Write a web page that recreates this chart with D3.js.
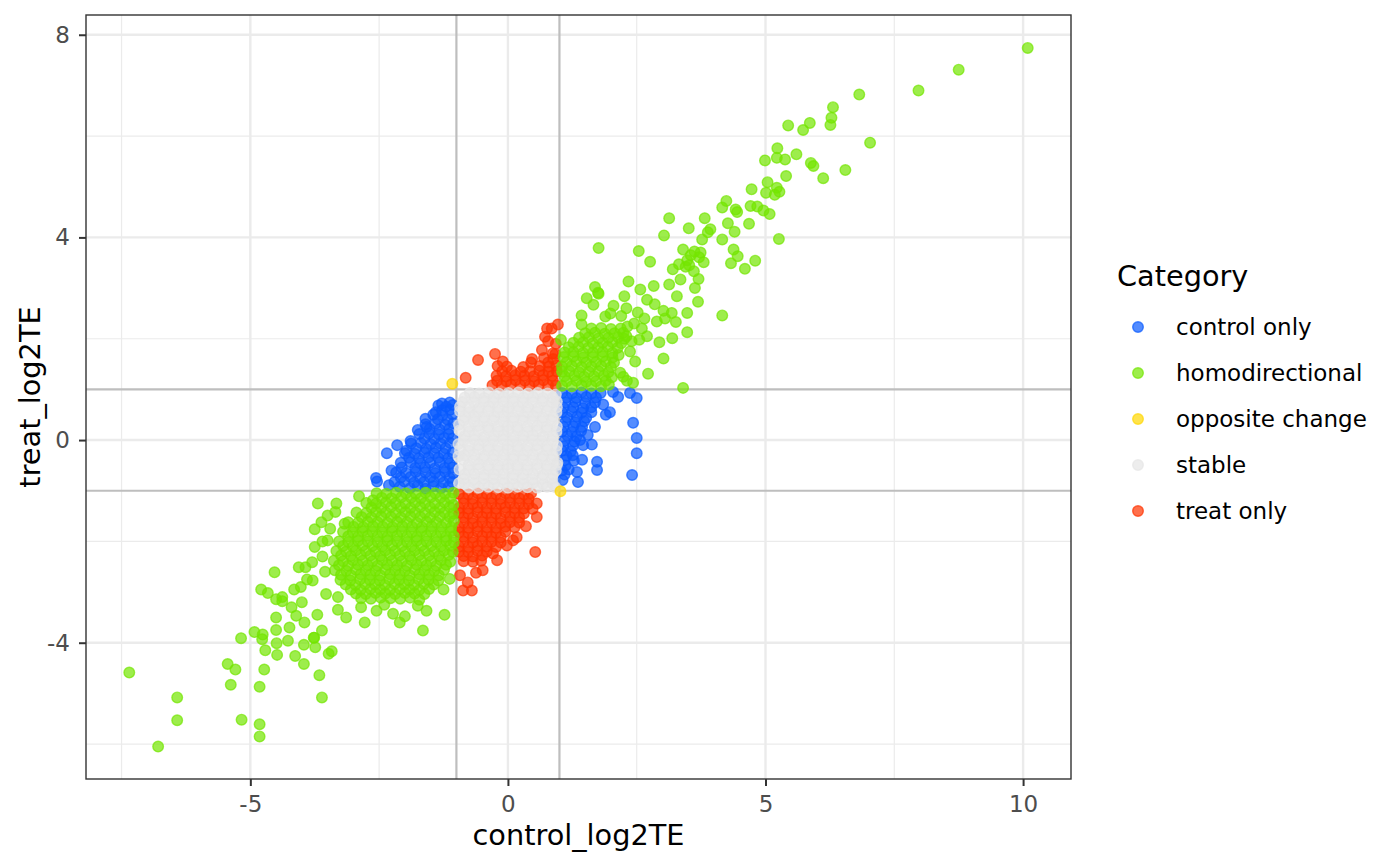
<!DOCTYPE html>
<html>
<head>
<meta charset="utf-8">
<script src="https://cdn.jsdelivr.net/npm/d3@7"></script>
<style>
body { margin: 0; background: #fff; }
text { font-family: "DejaVu Sans", sans-serif; }
</style>
</head>
<body>
<div id="te_scatter"></div>
<script>
// categories, in legend order
var categories = ["control only", "homodirectional", "opposite change", "stable", "treat only"];

// tick values
var xTicks = [-5, 0, 5, 10];
var yTicks = [-4, 0, 4, 8];
var xMinor = [-7.5, -2.5, 2.5, 7.5];
var yMinor = [-6, -2, 2, 6];
var cutoffs = [-1, 1];

// points: [control_log2TE, treat_log2TE]
var stable = [
  [-0.74,0.93],[-0.56,0.92],[-0.37,0.94],[-0.18,0.92],[0.01,0.93],[0.2,0.94],[0.39,0.92],[0.58,0.93],[0.77,0.92],[0.93,0.9],
  [-0.84,0.84],[-0.65,0.85],[-0.46,0.83],[-0.27,0.84],[-0.08,0.85],[0.11,0.83],[0.3,0.84],[0.49,0.85],[0.68,0.83],[0.87,0.84],
  [-0.88,0.75],[-0.66,0.74],[-0.47,0.76],[-0.28,0.74],[-0.09,0.75],[0.1,0.76],[0.29,0.74],[0.48,0.75],[0.67,0.76],[0.86,0.74],[0.95,0.76],
  [-0.93,0.66],[-0.75,0.65],[-0.56,0.64],[-0.37,0.66],[-0.18,0.65],[0.01,0.64],[0.2,0.66],[0.39,0.65],[0.58,0.64],[0.77,0.66],[0.95,0.65],
  [-0.93,0.57],[-0.76,0.55],[-0.57,0.56],[-0.38,0.57],[-0.19,0.55],[0.0,0.56],[0.19,0.57],[0.38,0.55],[0.57,0.56],[0.76,0.57],[0.94,0.55],
  [-0.84,0.46],[-0.65,0.47],[-0.46,0.45],[-0.27,0.46],[-0.08,0.47],[0.11,0.45],[0.3,0.46],[0.49,0.47],[0.68,0.45],[0.87,0.46],
  [-0.86,0.38],[-0.66,0.36],[-0.47,0.37],[-0.28,0.38],[-0.09,0.36],[0.1,0.37],[0.29,0.38],[0.48,0.36],[0.67,0.37],[0.86,0.38],[-0.95,0.3],
  [-0.76,0.27],[-0.57,0.28],[-0.38,0.26],[-0.19,0.27],[0.0,0.28],[0.19,0.26],[0.38,0.27],[0.57,0.28],[0.76,0.26],[0.95,0.27],
  [-0.94,0.19],[-0.76,0.17],[-0.57,0.18],[-0.38,0.19],[-0.19,0.17],[0.0,0.18],[0.19,0.19],[0.38,0.17],[0.57,0.18],[0.76,0.19],[0.94,0.17],
  [-0.84,0.08],[-0.65,0.09],[-0.46,0.07],[-0.27,0.08],[-0.08,0.09],[0.11,0.07],[0.3,0.08],[0.49,0.09],[0.68,0.07],[0.87,0.08],
  [-0.86,-0.01],[-0.66,0.0],[-0.47,-0.02],[-0.28,-0.01],[-0.09,0.0],[0.1,-0.02],[0.29,-0.01],[0.48,0.0],[0.67,-0.02],[0.86,-0.01],[-0.96,-0.08],
  [-0.76,-0.11],[-0.57,-0.1],[-0.38,-0.12],[-0.19,-0.11],[0.0,-0.1],[0.19,-0.12],[0.38,-0.11],[0.57,-0.1],[0.76,-0.12],[0.95,-0.11],
  [-0.93,-0.2],[-0.76,-0.21],[-0.57,-0.19],[-0.38,-0.2],[-0.19,-0.21],[0.0,-0.19],[0.19,-0.2],[0.38,-0.21],[0.57,-0.19],[0.76,-0.2],[0.94,-0.21],
  [-0.84,-0.3],[-0.65,-0.29],[-0.46,-0.31],[-0.27,-0.3],[-0.08,-0.29],[0.11,-0.31],[0.3,-0.3],[0.49,-0.29],[0.68,-0.31],[0.87,-0.3],[-0.96,-0.32],
  [-0.86,-0.39],[-0.66,-0.4],[-0.47,-0.38],[-0.28,-0.39],[-0.09,-0.4],[0.1,-0.38],[0.29,-0.39],[0.48,-0.4],[0.67,-0.38],[0.86,-0.39],[0.96,-0.45],
  [-0.76,-0.49],[-0.57,-0.48],[-0.38,-0.5],[-0.19,-0.49],[0.0,-0.48],[0.19,-0.5],[0.38,-0.49],[0.57,-0.48],[0.76,-0.5],[0.95,-0.49],
  [-0.94,-0.58],[-0.76,-0.59],[-0.57,-0.57],[-0.38,-0.58],[-0.19,-0.59],[0.0,-0.57],[0.19,-0.58],[0.38,-0.59],[0.57,-0.57],[0.76,-0.58],[0.93,-0.6],
  [-0.84,-0.68],[-0.65,-0.67],[-0.46,-0.69],[-0.27,-0.68],[-0.08,-0.67],[0.11,-0.69],[0.3,-0.68],[0.49,-0.67],[0.68,-0.69],[0.87,-0.68],
  [-0.86,-0.77],[-0.66,-0.78],[-0.47,-0.76],[-0.28,-0.77],[-0.09,-0.78],[0.1,-0.76],[0.29,-0.77],[0.48,-0.78],[0.67,-0.76],[0.86,-0.77],[-0.95,-0.85],
  [-0.84,-0.86],[-0.65,-0.85],[-0.46,-0.87],[-0.27,-0.86],[-0.08,-0.85],[0.11,-0.87],[0.3,-0.86],[0.49,-0.85],[0.68,-0.87],[0.87,-0.86],
  [-0.76,-0.93],[-0.57,-0.94],[-0.38,-0.92],[-0.19,-0.93],[0.0,-0.94],[0.19,-0.92],[0.38,-0.93],[0.57,-0.94],[0.76,-0.92],[0.92,-0.93]
];

var controlOnly = [
  // left block
  [-1.35,0.68],[-1.2,0.66],[-1.07,0.69],[-1.28,0.59],[-1.12,0.6],
  [-1.45,0.5],[-1.27,0.49],[-1.08,0.51],[-1.36,0.41],[-1.17,0.4],
  [-1.6,0.31],[-1.41,0.32],[-1.22,0.3],[-1.06,0.33],[-1.52,0.22],[-1.33,0.21],[-1.14,0.22],
  [-1.72,0.12],[-1.53,0.13],[-1.34,0.11],[-1.15,0.12],[-1.62,0.03],[-1.43,0.02],[-1.24,0.04],[-1.07,0.03],
  [-1.88,-0.07],[-1.69,-0.06],[-1.5,-0.08],[-1.31,-0.07],[-1.12,-0.06],[-1.78,-0.16],[-1.59,-0.17],[-1.4,-0.15],[-1.21,-0.16],
  [-2.0,-0.26],[-1.81,-0.27],[-1.62,-0.25],[-1.43,-0.26],[-1.24,-0.27],[-1.07,-0.25],
  [-1.92,-0.35],[-1.73,-0.36],[-1.54,-0.34],[-1.35,-0.35],[-1.16,-0.36],
  [-2.08,-0.45],[-1.89,-0.44],[-1.7,-0.46],[-1.51,-0.45],[-1.32,-0.44],[-1.13,-0.46],
  [-1.8,-0.55],[-1.61,-0.54],[-1.42,-0.56],[-1.23,-0.55],[-1.07,-0.54],
  [-2.17,-0.64],[-1.98,-0.65],[-1.79,-0.63],[-1.6,-0.64],[-1.41,-0.65],[-1.22,-0.63],[-1.06,-0.66],
  [-2.08,-0.74],[-1.89,-0.73],[-1.7,-0.75],[-1.51,-0.74],[-1.32,-0.73],[-1.13,-0.75],
  [-2.2,-0.83],[-2.01,-0.82],[-1.82,-0.84],[-1.63,-0.83],[-1.44,-0.82],[-1.25,-0.84],[-1.08,-0.83],
  [-2.1,-0.92],[-1.9,-0.95],[-1.75,-0.9],[-1.6,-0.96],[-1.45,-0.91],[-1.3,-0.95],[-1.15,-0.92],
  [-2.35,-0.26],[-2.56,-0.75],[-2.54,-0.82],[-2.26,-0.6],[-2.06,-0.54],[-2.31,-0.89],[-1.89,-0.02],[-1.97,-0.21],
  [-1.28,0.72],[-1.13,0.74],[-1.4,0.55],[-1.58,0.26],[-1.75,0.2],[-2.15,-0.1],[-1.6,0.42],
  // right block
  [1.05,0.93],[1.24,0.92],[1.43,0.94],[1.62,0.92],[1.8,0.93],
  [1.14,0.84],[1.33,0.83],[1.52,0.85],[1.71,0.84],
  [1.12,0.74],[1.31,0.75],[1.5,0.73],[1.69,0.74],
  [1.08,0.64],[1.27,0.65],[1.46,0.63],[1.62,0.65],
  [1.05,0.55],[1.24,0.56],[1.43,0.54],[1.62,0.55],
  [1.15,0.45],[1.34,0.46],[1.52,0.44],
  [1.12,0.36],[1.31,0.35],[1.48,0.37],
  [1.08,0.26],[1.27,0.27],[1.44,0.26],
  [1.05,0.17],[1.24,0.16],[1.42,0.18],
  [1.16,0.08],[1.33,0.07],
  [1.1,-0.02],[1.29,-0.03],[1.4,0.0],
  [1.08,-0.12],[1.26,-0.11],
  [1.05,-0.21],[1.22,-0.22],[1.14,-0.31],
  [1.1,-0.4],[1.28,-0.41],[1.12,-0.5],
  [1.05,-0.6],[1.18,-0.58],[1.1,-0.68],
  [1.06,-0.79],
  [2.37,0.93],[2.5,0.83],[2.43,0.34],[2.5,0.04],[2.5,-0.26],[2.41,-0.69],[2.14,0.85],[2.04,0.95],[1.98,0.55],[1.9,0.5],
  [1.69,0.26],[1.63,-0.09],[1.46,-0.1],[1.44,-0.39],[1.73,-0.43],[1.73,-0.59],[1.34,-0.63],[1.36,-0.83],[1.26,-0.3],[1.55,0.1],[1.85,0.7]
];

var treatOnly = [
  // upper block
  [-0.3,1.08],[-0.12,1.07],[0.06,1.09],[0.24,1.08],[0.42,1.07],[0.6,1.09],[0.78,1.08],[0.93,1.07],
  [-0.21,1.17],[-0.03,1.16],[0.15,1.18],[0.33,1.17],[0.51,1.16],[0.69,1.18],[0.87,1.17],
  [-0.22,1.27],[-0.04,1.26],[0.14,1.28],[0.32,1.27],[0.5,1.26],[0.68,1.28],[0.86,1.27],
  [-0.11,1.36],[0.07,1.37],[0.25,1.35],[0.43,1.36],[0.61,1.37],[0.79,1.35],[0.95,1.36],
  [-0.2,1.46],[-0.02,1.45],[0.3,1.44],[0.62,1.46],[0.8,1.45],[0.94,1.47],
  [-0.1,1.55],[0.45,1.53],[0.78,1.53],[0.92,1.7],
  [0.7,1.62],[0.88,1.6],
  [-0.58,1.58],[-0.25,1.7],[-0.82,1.23],[0.47,1.6],[0.66,1.78],[0.72,2.04],[0.76,2.2],[0.97,2.28],[0.85,2.2],[0.87,1.71],[0.93,1.9],[0.78,1.95],
  // lower block
  [-0.95,-1.06],[-0.77,-1.07],[-0.59,-1.05],[-0.41,-1.06],[-0.23,-1.07],[-0.05,-1.05],[0.13,-1.06],[0.31,-1.07],[0.45,-1.05],
  [-0.86,-1.15],[-0.68,-1.16],[-0.5,-1.14],[-0.32,-1.15],[-0.14,-1.16],[0.04,-1.14],[0.22,-1.15],[0.4,-1.16],
  [-0.86,-1.25],[-0.68,-1.26],[-0.5,-1.24],[-0.32,-1.25],[-0.14,-1.26],[0.04,-1.24],[0.22,-1.25],[0.4,-1.26],
  [-0.95,-1.34],[-0.77,-1.35],[-0.59,-1.33],[-0.41,-1.34],[-0.23,-1.35],[-0.05,-1.33],[0.13,-1.34],[0.31,-1.35],[0.48,-1.36],
  [-0.95,-1.44],[-0.77,-1.45],[-0.59,-1.43],[-0.41,-1.44],[-0.23,-1.45],[-0.05,-1.43],[0.13,-1.44],[0.31,-1.45],
  [-0.86,-1.53],[-0.68,-1.54],[-0.5,-1.52],[-0.32,-1.53],[-0.14,-1.54],[0.04,-1.52],[0.22,-1.53],
  [-0.86,-1.63],[-0.68,-1.64],[-0.5,-1.62],[-0.32,-1.63],[-0.14,-1.64],[0.04,-1.62],[0.22,-1.63],
  [-0.95,-1.72],[-0.77,-1.73],[-0.59,-1.71],[-0.41,-1.72],[-0.23,-1.73],[-0.05,-1.71],[0.13,-1.72],
  [-0.95,-1.82],[-0.77,-1.83],[-0.59,-1.81],[-0.41,-1.82],[-0.23,-1.83],[-0.05,-1.81],
  [-0.86,-1.91],[-0.68,-1.92],[-0.5,-1.9],[-0.32,-1.91],[-0.14,-1.92],
  [-0.86,-2.01],[-0.68,-2.02],[-0.5,-2.0],[-0.32,-2.01],[-0.14,-2.02],
  [-0.95,-2.1],[-0.77,-2.11],[-0.59,-2.09],[-0.41,-2.1],[-0.23,-2.11],
  [-0.95,-2.2],[-0.77,-2.21],[-0.59,-2.19],[-0.41,-2.2],
  [-0.86,-2.29],[-0.68,-2.3],[-0.5,-2.28],
  [-0.86,-2.39],[-0.68,-2.4],[-0.52,-2.38],
  [0.56,-1.25],[0.56,-1.52],[0.53,-2.21],[0.17,-1.92],[0.1,-1.98],[-0.21,-2.37],[-0.49,-2.57],[-0.78,-2.81],
  [-0.7,-2.97],[-0.87,-2.97],[-0.93,-2.67],[-0.62,-2.62],[-0.29,-2.24],[-0.02,-2.08],[0.35,-1.7]
];

var homodirectional = [
  // lower-left block
  [-2.55,-1.05],[-2.36,-1.06],[-2.17,-1.04],[-1.98,-1.05],[-1.79,-1.06],[-1.6,-1.04],[-1.41,-1.05],[-1.22,-1.06],[-1.06,-1.04],
  [-2.45,-1.14],[-2.26,-1.15],[-2.07,-1.13],[-1.88,-1.14],[-1.69,-1.15],[-1.5,-1.13],[-1.31,-1.14],[-1.12,-1.15],
  [-2.75,-1.24],[-2.56,-1.25],[-2.37,-1.23],[-2.18,-1.24],[-1.99,-1.25],[-1.8,-1.23],[-1.61,-1.24],[-1.42,-1.25],[-1.23,-1.23],[-1.06,-1.28],
  [-2.65,-1.33],[-2.46,-1.34],[-2.27,-1.32],[-2.08,-1.33],[-1.89,-1.34],[-1.7,-1.32],[-1.51,-1.33],[-1.32,-1.34],[-1.13,-1.32],
  [-2.94,-1.43],[-2.75,-1.44],[-2.56,-1.42],[-2.37,-1.43],[-2.18,-1.44],[-1.99,-1.42],[-1.8,-1.43],[-1.61,-1.44],[-1.42,-1.42],[-1.23,-1.43],[-1.06,-1.45],
  [-2.84,-1.52],[-2.65,-1.53],[-2.46,-1.51],[-2.27,-1.52],[-2.08,-1.53],[-1.89,-1.51],[-1.7,-1.52],[-1.51,-1.53],[-1.32,-1.51],[-1.13,-1.52],
  [-3.1,-1.62],[-2.91,-1.63],[-2.72,-1.61],[-2.53,-1.62],[-2.34,-1.63],[-2.15,-1.61],[-1.96,-1.62],[-1.77,-1.63],[-1.58,-1.61],[-1.39,-1.62],[-1.2,-1.63],[-1.05,-1.6],
  [-3.0,-1.71],[-2.81,-1.72],[-2.62,-1.7],[-2.43,-1.71],[-2.24,-1.72],[-2.05,-1.7],[-1.86,-1.71],[-1.67,-1.72],[-1.48,-1.7],[-1.29,-1.71],[-1.1,-1.72],
  [-3.2,-1.81],[-3.01,-1.82],[-2.82,-1.8],[-2.63,-1.81],[-2.44,-1.82],[-2.25,-1.8],[-2.06,-1.81],[-1.87,-1.82],[-1.68,-1.8],[-1.49,-1.81],[-1.3,-1.82],[-1.11,-1.8],
  [-3.1,-1.9],[-2.91,-1.91],[-2.72,-1.89],[-2.53,-1.9],[-2.34,-1.91],[-2.15,-1.89],[-1.96,-1.9],[-1.77,-1.91],[-1.58,-1.89],[-1.39,-1.9],[-1.2,-1.91],[-1.05,-1.9],
  [-3.28,-2.0],[-3.1,-2.01],[-2.91,-1.99],[-2.72,-2.0],[-2.53,-2.01],[-2.34,-1.99],[-2.15,-2.0],[-1.96,-2.01],[-1.77,-1.99],[-1.58,-2.0],[-1.39,-2.01],[-1.2,-1.99],[-1.05,-2.02],
  [-3.2,-2.09],[-3.01,-2.1],[-2.82,-2.08],[-2.63,-2.09],[-2.44,-2.1],[-2.25,-2.08],[-2.06,-2.09],[-1.87,-2.1],[-1.68,-2.08],[-1.49,-2.09],[-1.3,-2.1],[-1.12,-2.08],
  [-3.33,-2.19],[-3.14,-2.2],[-2.95,-2.18],[-2.76,-2.19],[-2.57,-2.2],[-2.38,-2.18],[-2.19,-2.19],[-2.0,-2.2],[-1.81,-2.18],[-1.62,-2.19],[-1.43,-2.2],[-1.24,-2.18],[-1.07,-2.21],
  [-3.24,-2.28],[-3.05,-2.29],[-2.86,-2.27],[-2.67,-2.28],[-2.48,-2.29],[-2.29,-2.27],[-2.1,-2.28],[-1.91,-2.29],[-1.72,-2.27],[-1.53,-2.28],[-1.34,-2.29],[-1.15,-2.27],
  [-3.38,-2.38],[-3.2,-2.39],[-3.01,-2.37],[-2.82,-2.38],[-2.63,-2.39],[-2.44,-2.37],[-2.25,-2.38],[-2.06,-2.39],[-1.87,-2.37],[-1.68,-2.38],[-1.49,-2.39],[-1.3,-2.37],[-1.12,-2.4],
  [-3.28,-2.47],[-3.1,-2.48],[-2.91,-2.46],[-2.72,-2.47],[-2.53,-2.48],[-2.34,-2.46],[-2.15,-2.47],[-1.96,-2.48],[-1.77,-2.46],[-1.58,-2.47],[-1.39,-2.48],[-1.2,-2.46],
  [-3.36,-2.57],[-3.14,-2.58],[-2.95,-2.56],[-2.76,-2.57],[-2.57,-2.58],[-2.38,-2.56],[-2.19,-2.57],[-2.0,-2.58],[-1.81,-2.56],[-1.62,-2.57],[-1.43,-2.58],[-1.24,-2.56],
  [-3.24,-2.66],[-3.05,-2.67],[-2.86,-2.65],[-2.67,-2.66],[-2.48,-2.67],[-2.29,-2.65],[-2.1,-2.66],[-1.91,-2.67],[-1.72,-2.65],[-1.53,-2.66],[-1.34,-2.67],
  [-3.25,-2.76],[-3.06,-2.77],[-2.87,-2.75],[-2.68,-2.76],[-2.49,-2.77],[-2.3,-2.75],[-2.11,-2.76],[-1.92,-2.77],[-1.73,-2.75],[-1.54,-2.76],[-1.35,-2.77],
  [-3.15,-2.85],[-2.96,-2.86],[-2.77,-2.84],[-2.58,-2.85],[-2.39,-2.86],[-2.2,-2.84],[-2.01,-2.85],[-1.82,-2.86],[-1.63,-2.84],[-1.44,-2.85],
  [-3.05,-2.95],[-2.86,-2.96],[-2.67,-2.94],[-2.48,-2.95],[-2.29,-2.96],[-2.1,-2.94],[-1.91,-2.95],[-1.72,-2.96],[-1.53,-2.94],
  [-2.95,-3.03],[-2.76,-3.04],[-2.57,-3.02],[-2.38,-3.03],[-2.19,-3.04],[-2.0,-3.02],[-1.81,-3.03],[-1.62,-3.04],
  [-2.85,-3.12],[-2.66,-3.13],[-2.47,-3.11],[-2.28,-3.12],[-2.09,-3.13],[-1.9,-3.11],[-1.72,-3.15],
  [-7.35,-4.59],[-6.79,-6.05],[-6.42,-5.08],[-6.42,-5.53],[-5.44,-4.42],[-5.29,-4.53],[-5.38,-4.83],[-5.18,-3.91],[-5.17,-5.52],
  [-4.82,-4.87],[-4.82,-5.61],[-4.82,-5.85],[-4.73,-4.53],[-4.71,-4.15],[-4.48,-4.24],[-4.49,-4.01],[-4.92,-3.79],[-4.76,-3.84],
  [-4.77,-3.93],[-4.53,-2.61],[-4.79,-2.95],[-4.66,-3.02],[-4.5,-3.14],[-4.38,-3.18],[-4.38,-3.1],[-4.5,-3.5],[-4.5,-3.75],
  [-4.27,-3.96],[-4.13,-4.26],[-3.96,-4.42],[-3.96,-4.04],[-3.74,-4.09],[-3.76,-3.9],[-3.66,-4.64],[-3.61,-5.08],[-3.48,-4.22],
  [-3.42,-4.17],[-4.24,-3.7],[-4.11,-3.47],[-4.06,-2.51],[-3.93,-2.51],[-3.8,-2.41],[-3.75,-2.11],[-3.69,-1.25],[-3.33,-1.25],
  [-3.75,-1.76],[-3.62,-1.62],[-3.5,-1.49],[-3.35,-1.42],[-3.17,-1.65],[-3.5,-1.98],[-3.79,-2.77],[-3.53,-3.04],[-3.3,-3.1],
  [-3.14,-3.5],[-3.3,-3.35],[-2.78,-3.6],[-2.55,-3.37],[-2.23,-3.43],[-2.1,-3.6],[-2.0,-3.48],[-1.75,-3.27],[-1.65,-3.76],
  [-1.23,-3.45],[-1.58,-3.37],[-1.25,-2.95],[-1.13,-2.74],[-2.89,-1.11],[-2.62,-1.19],[-2.85,-3.3],[-2.4,-3.25],[-3.61,-3.76],
  [-3.77,-3.9],[-4.2,-3.3],[-4.0,-3.2],[-4.02,-2.9],[-3.9,-2.75],[-3.95,-3.6],[-3.7,-3.45],[-3.55,-2.6],[-3.6,-2.3],[-3.6,-2.0],
  [-3.45,-1.75],[-4.15,-2.95],
  // upper-right block
  [1.05,1.07],[1.24,1.06],[1.43,1.08],[1.62,1.07],[1.81,1.06],[1.96,1.09],
  [1.14,1.16],[1.33,1.17],[1.52,1.15],[1.71,1.16],[1.9,1.17],
  [1.1,1.26],[1.29,1.27],[1.48,1.25],[1.67,1.26],[1.86,1.27],[2.02,1.24],
  [1.05,1.35],[1.19,1.36],[1.38,1.34],[1.57,1.35],[1.76,1.36],[1.95,1.34],
  [1.05,1.45],[1.24,1.46],[1.43,1.44],[1.62,1.45],[1.81,1.46],[2.0,1.44],
  [1.14,1.54],[1.33,1.55],[1.52,1.53],[1.71,1.54],[1.9,1.55],[2.06,1.53],
  [1.08,1.64],[1.27,1.65],[1.46,1.63],[1.65,1.64],[1.84,1.65],[2.03,1.63],[2.15,1.68],
  [1.1,1.73],[1.27,1.74],[1.46,1.72],[1.65,1.73],[1.84,1.74],[2.03,1.72],
  [1.18,1.83],[1.37,1.84],[1.56,1.82],[1.75,1.83],[1.94,1.84],[2.13,1.82],
  [1.27,1.92],[1.46,1.93],[1.65,1.91],[1.84,1.92],[2.03,1.93],[2.2,1.91],
  [1.38,2.02],[1.57,2.03],[1.76,2.01],[1.95,2.02],[2.14,2.03],[2.26,2.0],
  [1.5,2.11],[1.69,2.12],[1.88,2.1],[2.07,2.11],[2.24,2.12],
  [1.62,2.2],[1.81,2.21],[2.0,2.19],[2.19,2.2],[2.32,2.24],
  [10.09,7.74],[8.75,7.31],[7.97,6.9],[6.82,6.82],[6.31,6.57],[6.28,6.36],[6.26,6.22],[7.03,5.87],[5.44,6.21],
  [5.86,6.26],[5.73,6.12],[5.23,5.76],[5.22,5.57],[5.38,5.54],[5.6,5.64],[4.99,5.52],[5.88,5.47],[5.93,5.41],
  [6.55,5.33],[6.12,5.17],[5.4,5.21],[5.04,5.09],[4.73,4.95],[5.01,4.88],[5.22,4.98],[5.27,4.9],[5.18,4.84],
  [4.24,4.72],[4.16,4.59],[4.42,4.55],[4.71,4.62],[4.84,4.61],[4.96,4.53],[5.08,4.46],[4.45,4.5],[3.82,4.38],
  [3.13,4.38],[3.51,4.18],[3.03,4.04],[4.68,4.27],[4.27,4.28],[4.4,4.11],[3.93,4.16],[3.88,4.1],[4.16,3.96],
  [3.77,3.96],[5.26,3.97],[1.76,3.79],[2.54,3.73],[2.76,3.52],[3.4,3.76],[3.74,3.7],[3.71,3.61],[3.8,3.51],
  [3.48,3.55],[3.32,3.47],[3.2,3.37],[3.61,3.33],[3.35,3.17],[4.33,3.49],[4.38,3.76],[4.46,3.63],[4.6,3.38],
  [4.8,3.54],[3.7,3.18],[3.63,3.0],[3.69,2.73],[3.13,3.07],[3.28,2.84],[3.48,2.51],[4.16,2.46],[2.34,3.13],
  [1.69,3.02],[1.76,2.89],[1.53,2.8],[2.26,2.84],[2.57,2.97],[2.83,3.04],[2.7,2.77],[2.85,2.68],[3.02,2.55],
  [3.18,2.51],[3.26,2.33],[2.89,2.34],[3.05,2.4],[2.55,1.98],[2.94,1.93],[3.19,2.01],[3.48,2.13],[3.02,1.61],
  [2.72,1.31],[3.4,1.03],[2.47,1.55],[2.37,1.75],[2.31,1.17],[2.05,2.65],[1.43,2.46],[1.43,2.28],[1.66,2.67],
  [1.89,2.44],[1.99,2.5],[2.3,2.6],[1.03,1.98],[2.18,1.33],[1.75,2.91],[2.43,1.13],[2.24,1.25],[2.6,2.2],
  [2.7,2.05],[2.45,2.3],[2.2,2.45],[2.52,2.52],[2.65,2.4],[2.4,1.95],[2.3,2.05],[3.55,3.65],[3.62,3.72],
  [3.45,3.42],[3.52,3.45]
];

var oppositeChange = [[-1.08,1.11],[1.02,-1.01]];

// colours per category
var colour = d3.scaleOrdinal()
    .domain(categories)
    .range(["#0A5BFF", "#73E600", "#FFD700", "#E5E5E5", "#FF3300"]);

// set the dimensions and margins of the graph
var margin = {top: 15, right: 329, bottom: 86, left: 86},
    width = 1400 - margin.left - margin.right,
    height = 865 - margin.top - margin.bottom;

var svg_root = d3.select("#te_scatter")
  .append("svg")
    .attr("width", 1400)
    .attr("height", 865);

var svg = svg_root.append("g")
    .attr("transform", "translate(" + margin.left + "," + margin.top + ")");

var x = d3.scaleLinear().domain([-8.19, 10.93]).range([0, width]);
var y = d3.scaleLinear().domain([-6.69, 8.39]).range([height, 0]);

// grid, minor then major
svg.selectAll(".xminor").data(xMinor).enter().append("line")
    .attr("x1", d => x(d)).attr("x2", d => x(d)).attr("y1", 0).attr("y2", height)
    .style("stroke", "#EBEBEB").style("stroke-width", 1.2);
svg.selectAll(".yminor").data(yMinor).enter().append("line")
    .attr("y1", d => y(d)).attr("y2", d => y(d)).attr("x1", 0).attr("x2", width)
    .style("stroke", "#EBEBEB").style("stroke-width", 1.2);
svg.selectAll(".xmajor").data(xTicks).enter().append("line")
    .attr("x1", d => x(d)).attr("x2", d => x(d)).attr("y1", 0).attr("y2", height)
    .style("stroke", "#EBEBEB").style("stroke-width", 2.4);
svg.selectAll(".ymajor").data(yTicks).enter().append("line")
    .attr("y1", d => y(d)).attr("y2", d => y(d)).attr("x1", 0).attr("x2", width)
    .style("stroke", "#EBEBEB").style("stroke-width", 2.4);

// cutoff lines at +/-1
svg.selectAll(".vcut").data(cutoffs).enter().append("line")
    .attr("x1", d => x(d)).attr("x2", d => x(d)).attr("y1", 0).attr("y2", height)
    .style("stroke", "#BEBEBE").style("stroke-width", 2.2);
svg.selectAll(".hcut").data(cutoffs).enter().append("line")
    .attr("y1", d => y(d)).attr("y2", d => y(d)).attr("x1", 0).attr("x2", width)
    .style("stroke", "#BEBEBE").style("stroke-width", 2.2);

// points, drawn layer by layer (filled circle with a same-coloured rim, like shape 19)
var layers = [
  ["treat only", treatOnly],
  ["control only", controlOnly],
  ["stable", stable],
  ["homodirectional", homodirectional],
  ["opposite change", oppositeChange]
];
layers.forEach(function(l) {
  svg.append("g").selectAll("circle")
    .data(l[1])
    .enter()
    .append("circle")
      .attr("cx", d => x(d[0]))
      .attr("cy", d => y(d[1]))
      .attr("r", 5.3)
      .style("fill", colour(l[0]))
      .style("fill-opacity", 0.7)
      .style("stroke", colour(l[0]))
      .style("stroke-opacity", 0.7)
      .style("stroke-width", 1.4);
});

// panel border
svg.append("rect")
    .attr("width", width).attr("height", height)
    .style("fill", "none").style("stroke", "#333333").style("stroke-width", 1.4);

// axes
var xAxis = svg.append("g")
    .attr("transform", "translate(0," + height + ")")
    .call(d3.axisBottom(x).tickValues(xTicks).tickSize(7).tickPadding(10).tickFormat(d => String(d)));
var yAxis = svg.append("g")
    .call(d3.axisLeft(y).tickValues(yTicks).tickSize(7).tickPadding(9).tickFormat(d => String(d)));
[xAxis, yAxis].forEach(function(a) {
  a.select(".domain").remove();
  a.selectAll("line").style("stroke", "#333333").style("stroke-width", 2);
  a.selectAll("text")
    .style("font-family", "DejaVu Sans")
    .style("font-size", "23px")
    .style("fill", "#4D4D4D");
});

// axis titles
svg_root.append("text")
    .attr("x", margin.left + width / 2)
    .attr("y", 845)
    .attr("text-anchor", "middle")
    .style("font-size", "28.75px")
    .text("control_log2TE");
svg_root.append("text")
    .attr("transform", "translate(40," + (margin.top + height / 2) + ") rotate(-90)")
    .attr("text-anchor", "middle")
    .style("font-size", "28.75px")
    .text("treat_log2TE");

// legend
var legend = svg_root.append("g").attr("transform", "translate(1117,0)");
legend.append("text")
    .attr("x", 0).attr("y", 286)
    .style("font-size", "28.75px")
    .text("Category");
var item = legend.selectAll(".item")
    .data(categories)
    .enter()
    .append("g")
    .attr("transform", (d, i) => "translate(0," + (327 + i * 46) + ")");
item.append("circle")
    .attr("cx", 21).attr("cy", 0).attr("r", 5.3)
    .style("fill", d => colour(d))
    .style("fill-opacity", 0.7)
    .style("stroke", d => colour(d))
    .style("stroke-opacity", 0.7)
    .style("stroke-width", 1.4);
item.append("text")
    .attr("x", 59).attr("y", 8)
    .style("font-size", "23px")
    .text(d => d);
</script>
</body>
</html>
